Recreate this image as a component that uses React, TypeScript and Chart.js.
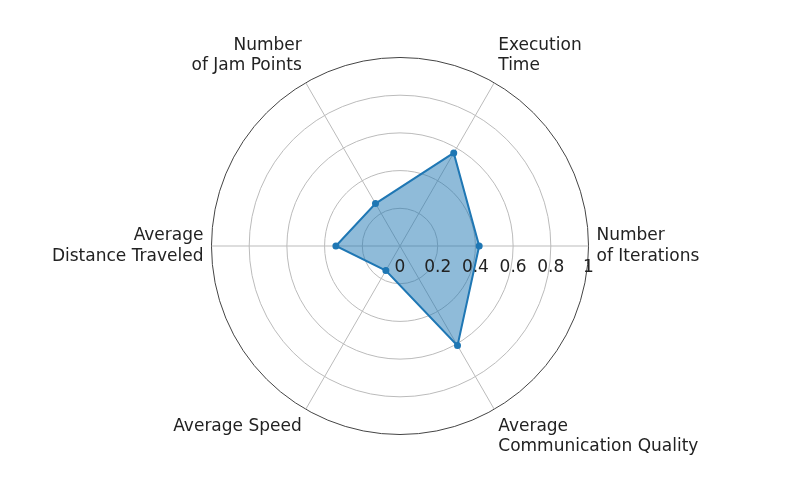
import { useEffect, useRef } from 'react'
import { Chart, registerables } from 'chart.js'

Chart.register(...registerables)

const categories: string[][] = [
  ['Number', 'of Iterations'],
  ['Average', 'Communication Quality'],
  ['Average Speed'],
  ['Average', 'Distance Traveled'],
  ['Number', 'of Jam Points'],
  ['Execution', 'Time'],
]
const values = [0.42, 0.61, 0.15, 0.34, 0.26, 0.57]
const tickValues = [0, 0.2, 0.4, 0.6, 0.8, 1]

const tickPlugin = {
  id: 'tickLabels',
  afterDraw(chart: any) {
    const s = chart.scales.r
    const ctx = chart.ctx
    ctx.save()
    ctx.font = '17px "DejaVu Sans"'
    ctx.fillStyle = '#222'
    ctx.textAlign = 'center'
    ctx.textBaseline = 'top'
    tickValues.forEach((v) => {
      const d = s.getDistanceFromCenterForValue(v)
      ctx.fillText(String(v), s.xCenter + d, s.yCenter + 13)
    })
    ctx.restore()
  },
}

export default function App() {
  const ref = useRef<HTMLCanvasElement | null>(null)
  useEffect(() => {
    if (!ref.current) return
    const chart = new Chart(ref.current, {
      type: 'radar',
      data: {
        labels: categories,
        datasets: [
          {
            data: values,
            borderColor: '#1f77b4',
            backgroundColor: 'rgba(31,119,180,0.5)',
            borderWidth: 2,
            pointRadius: 2.5,
            pointBackgroundColor: '#1f77b4',
            fill: true,
          },
        ],
      },
      options: {
        animation: false,
        responsive: true,
        maintainAspectRatio: false,
        layout: { padding: { top: 36, bottom: 36, left: 0, right: 0 } },
        plugins: { legend: { display: false }, tooltip: { enabled: false } },
        scales: {
          r: {
            min: 0,
            max: 1,
            startAngle: 90,
            ticks: { display: false, stepSize: 0.2 },
            grid: {
              circular: true,
              color: (c: any) => (c.tick && c.tick.value === 1 ? '#444' : '#bbb'),
            },
            angleLines: { color: '#bbb' },
            pointLabels: {
              font: { family: 'DejaVu Sans', size: 17 },
              color: '#222',
              padding: 8,
            },
          },
        },
      },
      plugins: [tickPlugin],
    })
    return () => chart.destroy()
  }, [])
  return (
    <div style={{ position: 'absolute', left: 0, top: 0, width: 800, height: 494 }}>
      <canvas ref={ref} />
    </div>
  )
}
